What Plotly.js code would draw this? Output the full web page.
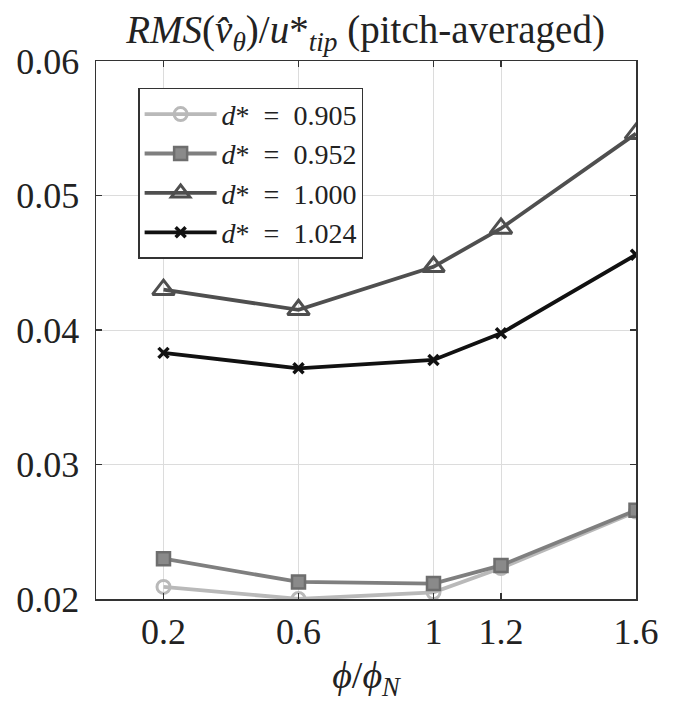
<!DOCTYPE html>
<html>
<head>
<meta charset="utf-8">
<script src="https://cdn.plot.ly/plotly-3.0.1.min.js"></script>
<style>html,body{margin:0;padding:0;background:#fff;}#chart{width:677px;height:702px;}</style>
</head>
<body>
<div id="chart"></div>
<script>
var phi = [0.2, 0.6, 1.0, 1.2, 1.6];
var seriesNames = ["<i>d</i>*\u00a0 = \u00a00.905", "<i>d</i>*\u00a0 = \u00a00.952", "<i>d</i>*\u00a0 = \u00a01.000", "<i>d</i>*\u00a0 = \u00a01.024"];
var d0905 = [0.0209, 0.0200, 0.0205, 0.0223, 0.0265];
var d0952 = [0.0230, 0.02127, 0.02115, 0.0225, 0.0266];
var d1000 = [0.0430, 0.0415, 0.0447, 0.04755, 0.0546];
var d1024 = [0.0383, 0.03715, 0.03777, 0.03975, 0.0456];
var xTickVals = [0.2, 0.6, 1, 1.2, 1.6];
var xTickText = ["0.2", "0.6", "1", "1.2", "1.6"];
var yTickVals = [0.02, 0.03, 0.04, 0.05, 0.06];
var yTickText = ["0.02", "0.03", "0.04", "0.05", "0.06"];

var FONT = "'Liberation Serif', 'DejaVu Serif', serif";
var traces = [
  {x: phi, y: d0905, name: seriesNames[0], mode: "lines+markers",
   line: {color: "#b9b9b9", width: 3.8},
   marker: {symbol: "circle-open", size: 13, color: "#b9b9b9", line: {width: 3, color: "#b9b9b9"}}},
  {x: phi, y: d0952, name: seriesNames[1], mode: "lines+markers",
   line: {color: "#7f7f7f", width: 3.8},
   marker: {symbol: "square", size: 13, color: "#8a8a8a", line: {width: 2.5, color: "#6e6e6e"}}},
  {x: phi, y: d1000, name: seriesNames[2], mode: "lines+markers",
   line: {color: "#4f4f4f", width: 3.8},
   marker: {symbol: "triangle-up-open", size: 19, color: "#4f4f4f", line: {width: 3, color: "#4f4f4f"}}},
  {x: phi, y: d1024, name: seriesNames[3], mode: "lines+markers",
   line: {color: "#111111", width: 3.8},
   marker: {symbol: "x-thin-open", size: 10, color: "#111111", line: {width: 3.5, color: "#111111"}}}
];

var layout = {
  width: 677, height: 702,
  margin: {l: 96, r: 41, t: 61, b: 103},
  paper_bgcolor: "#ffffff", plot_bgcolor: "#ffffff",
  font: {family: FONT, color: "#222222", size: 30},
  showlegend: true,
  title: {
    text: "<i>RMS</i>(<i>v̂</i><sub><i>θ</i></sub>)/<i>u</i>*<sub><i>tip</i></sub> (pitch-averaged)",
    font: {family: FONT, size: 39, color: "#222222"},
    x: 0.54, xanchor: "center", y: 0.958, yanchor: "middle"
  },
  xaxis: {
    range: [0, 1.6], tickvals: xTickVals, ticktext: xTickText,
    showgrid: true, gridcolor: "#dcdcdc", gridwidth: 1, zeroline: false,
    showline: true, linecolor: "#333333", linewidth: 1.5, mirror: "ticks",
    ticks: "inside", ticklen: 6, tickcolor: "#333333", tickwidth: 1.2,
    tickfont: {family: FONT, size: 36, color: "#222222"},
    title: {text: "<i>ϕ</i>/<i>ϕ</i><sub><i>N</i></sub>", font: {family: FONT, size: 38, color: "#222222"}, standoff: 10}
  },
  yaxis: {
    range: [0.02, 0.06], tickvals: yTickVals, ticktext: yTickText,
    showgrid: true, gridcolor: "#dcdcdc", gridwidth: 1, zeroline: false,
    showline: true, linecolor: "#333333", linewidth: 1.5, mirror: "ticks",
    ticks: "inside", ticklen: 6, tickcolor: "#333333", tickwidth: 1.2,
    ticklabelstandoff: 8,
    tickfont: {family: FONT, size: 36, color: "#222222"}
  },
  legend: {
    x: 0.078, y: 0.95, xanchor: "left", yanchor: "top",
    bgcolor: "#ffffff", bordercolor: "#333333", borderwidth: 1.5,
    font: {family: FONT, size: 28, color: "#222222"},
    tracegroupgap: 0, itemwidth: 72
  }
};

Plotly.newPlot("chart", traces, layout, {displayModeBar: false, staticPlot: true});
</script>
</body>
</html>
